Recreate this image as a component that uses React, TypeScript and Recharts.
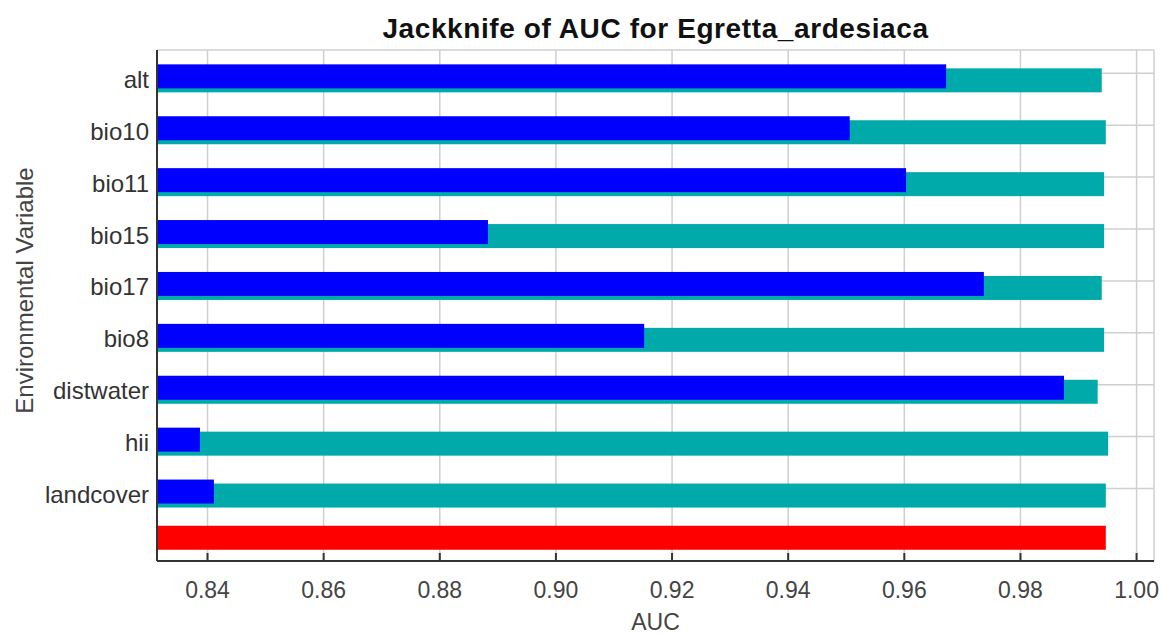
import React from 'react';
import { BarChart, Bar, XAxis, YAxis, CartesianGrid } from 'recharts';

const VARIABLES = ['alt', 'bio10', 'bio11', 'bio15', 'bio17', 'bio8', 'distwater', 'hii', 'landcover'];
const WITHOUT_VARIABLE = [0.994, 0.9947, 0.9944, 0.9944, 0.994, 0.9944, 0.9933, 0.9951, 0.9947];
const WITH_ONLY_VARIABLE = [0.9672, 0.9506, 0.9603, 0.8883, 0.9737, 0.9152, 0.9875, 0.8387, 0.8411];
const WITH_ALL_VARIABLES = 0.9947;
const AUC_TICKS = [0.84, 0.86, 0.88, 0.9, 0.92, 0.94, 0.96, 0.98, 1.0];
const AUC_DOMAIN = [0.8313, 1.003];

const ALL_ROW = '';

const data = [
  ...VARIABLES.map((name, i) => ({ name, without: WITHOUT_VARIABLE[i], only: WITH_ONLY_VARIABLE[i] })),
  { name: ALL_ROW, all: WITH_ALL_VARIABLES },
];

const FONT = '"Liberation Sans", Arial, sans-serif';
const BORDER = { stroke: '#333', strokeWidth: 2 };
const PAD = { top: -2.65, bottom: -5.35 };

// bars sit a little below the category centre, like the MaxEnt plot
const shifted = (dy: number) => (props: any) => {
  const { x, y, width, height, fill } = props;
  if (!width || width <= 0) return <g />;
  return <rect x={x} y={y + dy} width={width} height={height} fill={fill} />;
};

// tick marks only, no text
const NoText = () => <g />;

const YLabel = (props: any) => {
  const vb = props.viewBox;
  const x = vb.x + 33;
  const y = vb.y + vb.height / 2 - 15;
  return (
    <text x={x} y={y} transform={`rotate(-90, ${x}, ${y})`} textAnchor="middle" fill="#444" fontSize={24} fontFamily={FONT}>
      Environmental Variable
    </text>
  );
};

const XLabel = (props: any) => {
  const vb = props.viewBox;
  return (
    <text x={vb.x + vb.width / 2} y={vb.y + 69} textAnchor="middle" fill="#444" fontSize={23} fontFamily={FONT}>
      AUC
    </text>
  );
};

export default function App() {
  return (
    <div style={{ position: 'absolute', left: 0, top: 0, width: 1162, height: 635, background: '#fff', fontFamily: FONT }}>
      <div
        style={{
          position: 'absolute',
          left: 157,
          width: 997,
          top: 15,
          textAlign: 'center',
          fontWeight: 'bold',
          fontSize: 28,
          lineHeight: '28px',
          letterSpacing: 0.6,
          color: '#111',
        }}
      >
        Jackknife of AUC for Egretta_ardesiaca
      </div>
      <BarChart
        width={1162}
        height={635}
        data={data}
        layout="vertical"
        margin={{ top: 50, right: 8, bottom: 0, left: 0 }}
        style={{ fontFamily: FONT }}
      >
        <CartesianGrid yAxisId="r" stroke="#cfcfcf" strokeWidth={1.5} />
        <XAxis
          type="number"
          domain={AUC_DOMAIN}
          allowDataOverflow
          ticks={AUC_TICKS}
          interval={0}
          tickFormatter={(v: number) => v.toFixed(2)}
          height={74}
          tickSize={-8}
          tickMargin={29}
          tickLine={BORDER}
          axisLine={BORDER}
          tick={{ fill: '#444', fontSize: 23 }}
          label={<XLabel />}
        />
        <XAxis
          xAxisId="top"
          orientation="top"
          mirror
          type="number"
          domain={AUC_DOMAIN}
          allowDataOverflow
          ticks={AUC_TICKS}
          interval={0}
          height={0}
          tick={<NoText />}
          tickSize={8}
          tickLine={BORDER}
          axisLine={BORDER}
        />
        <YAxis
          yAxisId="a"
          type="category"
          dataKey="name"
          width={157}
          ticks={VARIABLES}
          interval={0}
          padding={PAD}
          tickLine={false}
          tickSize={0}
          tickMargin={8}
          axisLine={BORDER}
          tick={{ fill: '#333', fontSize: 24, dy: 6 }}
          label={<YLabel />}
        />
        <YAxis yAxisId="b" type="category" dataKey="name" hide padding={PAD} />
        <YAxis yAxisId="c" type="category" dataKey="name" hide padding={PAD} />
        <YAxis
          yAxisId="r"
          orientation="right"
          mirror
          type="category"
          dataKey="name"
          width={0}
          ticks={VARIABLES}
          interval={0}
          padding={PAD}
          tick={<NoText />}
          tickSize={9}
          tickLine={BORDER}
          axisLine={BORDER}
        />
        <Bar dataKey="without" yAxisId="a" fill="#00AAAA" barSize={24} shape={shifted(7)} isAnimationActive={false} />
        <Bar dataKey="only" yAxisId="b" fill="#0000FF" barSize={24} shape={shifted(3)} isAnimationActive={false} />
        <Bar dataKey="all" yAxisId="c" fill="#FF0000" barSize={24} shape={shifted(-2.7)} isAnimationActive={false} />
      </BarChart>
    </div>
  );
}
